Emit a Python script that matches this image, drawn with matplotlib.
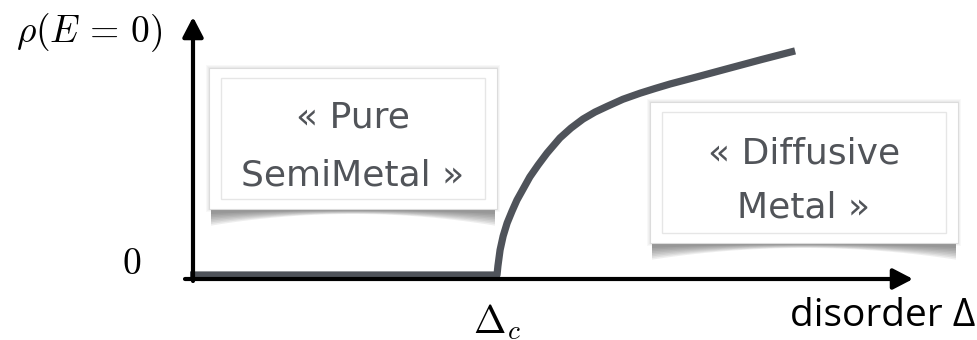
"""
Density of states at zero energy vs. disorder: semimetal -> diffusive metal
transition at the critical disorder Delta_c.
Produces out.png
"""
import numpy as np
import matplotlib
matplotlib.use("Agg")
import matplotlib.pyplot as plt
from matplotlib.patches import Rectangle, Polygon

plt.rcParams['mathtext.fontset'] = 'cm'

# rho(E=0) (disorder in units of Delta_c)
disorder = [0.0, 1.000, 1.003, 1.010, 1.020, 1.033, 1.049, 1.065, 1.085, 1.107,
            1.134, 1.163, 1.205, 1.241, 1.280, 1.319, 1.358, 1.410, 1.466,
            1.515, 1.564, 1.661, 1.759, 1.863, 1.971]
rho      = [0.0, 0.0, 0.040, 0.111, 0.173, 0.231, 0.284, 0.333, 0.382, 0.436,
            0.489, 0.542, 0.609, 0.653, 0.693, 0.724, 0.749, 0.781, 0.808,
            0.829, 0.849, 0.884, 0.920, 0.958, 0.996]
delta_c = 1.0
phase_labels = ["\u00ab Pure\nSemiMetal \u00bb", "\u00ab Diffusive\nMetal \u00bb"]

W, H = 977, 340
fig = plt.figure(figsize=(W / 100, H / 100), dpi=100)

# pixel-space layer for the note boxes and labels
bx = fig.add_axes([0, 0, 1, 1])
bx.set_xlim(0, W); bx.set_ylim(H, 0); bx.axis('off')

# data layer: origin at (190, 275) px, 307 px per Delta_c, 225 px per unit rho
ax = fig.add_axes([0, 0, 1, 1])
ax.set_xlim(-190 / 307, (W - 190) / 307)
ax.set_ylim((275 - H) / 225, 275 / 225)
ax.axis('off'); ax.patch.set_alpha(0)

ax.plot(disorder, rho, color="#4f535a", lw=5.2, solid_capstyle='butt',
        solid_joinstyle='round', zorder=2)

arrow = dict(arrowstyle='-|>,head_length=0.5,head_width=0.26', mutation_scale=24,
             lw=3, color='black', shrinkA=0, shrinkB=0)
ax.annotate('', xy=(913, 279), xytext=(185, 279), xycoords=bx.transData,
            textcoords=bx.transData, arrowprops=arrow, zorder=3)
ax.annotate('', xy=(193, 17), xytext=(193, 281), xycoords=bx.transData,
            textcoords=bx.transData, arrowprops=arrow, zorder=3)


def note_box(x0, y0, x1, y1, text, ty):
    # curled-page shadow under the card
    xs = np.linspace(x0 + 2, x1 - 2, 80)
    t = (xs - x0) / (x1 - x0)
    d = 5 + 12 * (2 * t - 1) ** 2
    for f in np.linspace(1.0, 0.3, 8):
        pts = np.column_stack([np.r_[xs, xs[::-1]],
                               np.r_[np.full_like(xs, y1 - 4), (y1 + d * f)[::-1]]])
        bx.add_patch(Polygon(pts, closed=True, fc='#2e2e2e', ec='none', alpha=0.08))
    # soft glow around the card
    for g in (3, 2, 1):
        bx.add_patch(Rectangle((x0 - g, y0 - g), x1 - x0 + 2 * g, y1 - y0 + 2 * g,
                               fc='#888888', ec='none', alpha=0.06))
    bx.add_patch(Rectangle((x0, y0), x1 - x0, y1 - y0, fc='white', ec='#dcdcdc', lw=0.8))
    bx.add_patch(Rectangle((x0 + 12, y0 + 10), x1 - x0 - 24, y1 - y0 - 20,
                           fc='none', ec='#e6e6e6', lw=1.0))
    l1, l2 = text.split("\n")
    cx = (x0 + x1) / 2
    bx.text(cx, ty[0], l1, ha='center', va='center', fontsize=26, color='#515459')
    bx.text(cx, ty[1], l2, ha='center', va='center', fontsize=26, color='#515459')


note_box(209, 68, 497, 209, phase_labels[0], (117, 175))
note_box(650, 102, 958, 243, phase_labels[1], (153, 207))

bx.text(89, 33, r'$\rho(E\,=\,0)$', ha='center', va='center', fontsize=27)
bx.text(132, 264, r'$0$', ha='center', va='center', fontsize=27)
ax.text(delta_c, (275 - 322) / 225, r'$\Delta_c$', ha='center', va='center', fontsize=28)
bx.text(975, 316, 'disorder \u0394', ha='right', va='center', fontsize=28,
        family='Open Sans', weight='normal', color='black')

fig.savefig("out.png", dpi=100)
